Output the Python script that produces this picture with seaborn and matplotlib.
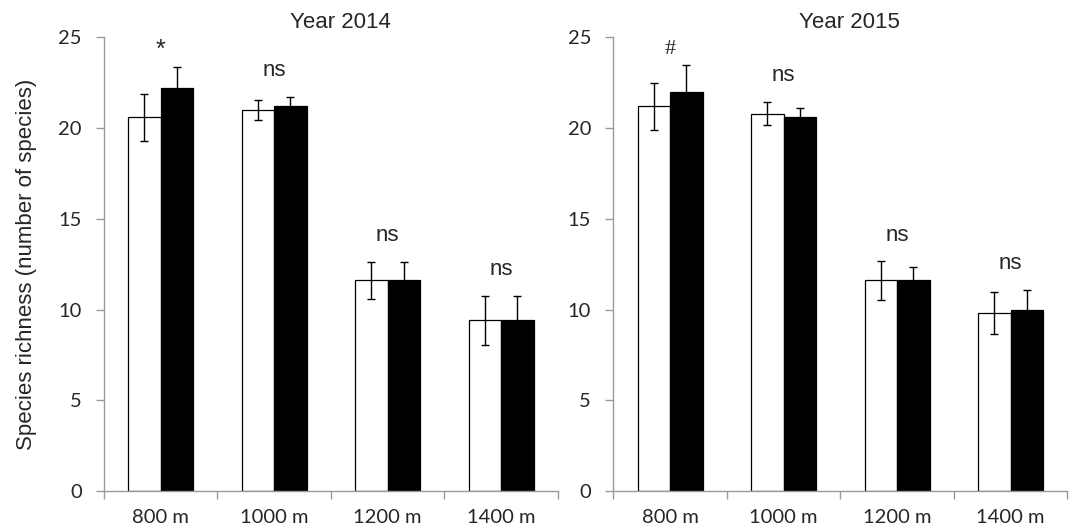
import numpy as np
import pandas as pd
import matplotlib
matplotlib.use("Agg")
import matplotlib.pyplot as plt
import seaborn as sns

# values
elevations = ["800 m", "1000 m", "1200 m", "1400 m"]
groups = ["open", "filled"]
years = ["Year 2014", "Year 2015"]

mean_2014_open = [20.6, 21.0, 11.6, 9.4]
mean_2014_filled = [22.2, 21.2, 11.6, 9.4]
err_2014_open = [1.3, 0.55, 1.0, 1.35]
err_2014_filled = [1.15, 0.5, 1.0, 1.35]

mean_2015_open = [21.2, 20.8, 11.6, 9.8]
mean_2015_filled = [22.0, 20.6, 11.6, 10.0]
err_2015_open = [1.3, 0.65, 1.05, 1.15]
err_2015_filled = [1.45, 0.5, 0.75, 1.1]

signif_2014 = ["*", "ns", "ns", "ns"]
signif_2015 = ["#", "ns", "ns", "ns"]

yticks = [0, 5, 10, 15, 20, 25]

rows = []
for year, mo, mf, eo, ef in [
    (years[0], mean_2014_open, mean_2014_filled, err_2014_open, err_2014_filled),
    (years[1], mean_2015_open, mean_2015_filled, err_2015_open, err_2015_filled),
]:
    for i, elev in enumerate(elevations):
        rows.append(dict(year=year, elevation=elev, group=groups[0], richness=mo[i], err=eo[i]))
        rows.append(dict(year=year, elevation=elev, group=groups[1], richness=mf[i], err=ef[i]))
df = pd.DataFrame(rows)

sns.set_style("white")
plt.rcParams["font.family"] = ["Liberation Sans", "DejaVu Sans"]

tick_font = ["Lato", "DejaVu Sans"]
spine_col = "#9a9a9a"
# how the significance marks sit above the highest error bar (glyph, offset, font)
mark_style = {
    "ns": dict(offset=1.15, fontsize=16, family=["Liberation Sans"]),
    "*": dict(offset=0.55, fontsize=18, family=["Liberation Sans"]),
    "#": dict(offset=0.65, fontsize=16, family=["Liberation Serif"]),
}

fig = plt.figure(figsize=(10.77, 5.30), dpi=100)
ax_left = fig.add_axes([0.0966, 0.0736, 0.4213, 0.856])
ax_right = fig.add_axes([0.5695, 0.0736, 0.4215, 0.856])

for ax, year, marks in [(ax_left, years[0], signif_2014), (ax_right, years[1], signif_2015)]:
    sub = df[df["year"] == year]
    sns.barplot(data=sub, x="elevation", y="richness", hue="group",
                order=elevations, hue_order=groups,
                palette={"open": "white", "filled": "black"},
                edgecolor="black", linewidth=0.9, width=0.574, gap=0,
                errorbar=None, legend=False, ax=ax)

    # error bars on top of each bar
    tops = np.zeros(len(elevations))
    for g, container in zip(groups, ax.containers):
        gsub = sub[sub["group"] == g].set_index("elevation").loc[elevations]
        xs = [b.get_x() + b.get_width() / 2 for b in container]
        ax.errorbar(xs, gsub["richness"], yerr=gsub["err"], fmt="none",
                    ecolor="black", elinewidth=1.0, capsize=3.2, capthick=1.0)
        tops = np.maximum(tops, (gsub["richness"] + gsub["err"]).values)

    for i, m in enumerate(marks):
        st = mark_style[m]
        ax.text(i, tops[i] + st["offset"], m, ha="center", va="baseline",
                fontsize=st["fontsize"], family=st["family"], clip_on=False)

    ax.set_xlim(-0.5, len(elevations) - 0.5)
    ax.set_ylim(0, 25)
    ax.set_yticks(yticks)
    ax.set_yticklabels([str(t) for t in yticks], family=tick_font, fontsize=14.5)

    # category boundaries as major ticks, labels on minor ticks
    ax.set_xticks(np.arange(len(elevations) + 1) - 0.5)
    ax.set_xticklabels([])
    ax.set_xticks(np.arange(len(elevations)), minor=True)
    ax.set_xticklabels(elevations, minor=True, family=tick_font, fontsize=14.5)
    ax.tick_params(axis="x", which="major", direction="out", length=6, width=1, color=spine_col, bottom=True)
    ax.tick_params(axis="x", which="minor", length=0, pad=13)
    ax.tick_params(axis="y", direction="out", length=6, width=1, color=spine_col, left=True, pad=10)

    for side in ["top", "right"]:
        ax.spines[side].set_visible(False)
    for side in ["left", "bottom"]:
        ax.spines[side].set_color(spine_col)
        ax.spines[side].set_linewidth(1.0)

    ax.set_xlabel("")
    ax.set_ylabel("")
    ax.set_title(year, fontsize=16, pad=6.5, x=0.52)

ax_left.set_ylabel("Species richness (number of species)", fontsize=16)
ax_left.yaxis.set_label_coords(-0.148, 0.5)

fig.savefig("out.png", dpi=100, facecolor="white")
